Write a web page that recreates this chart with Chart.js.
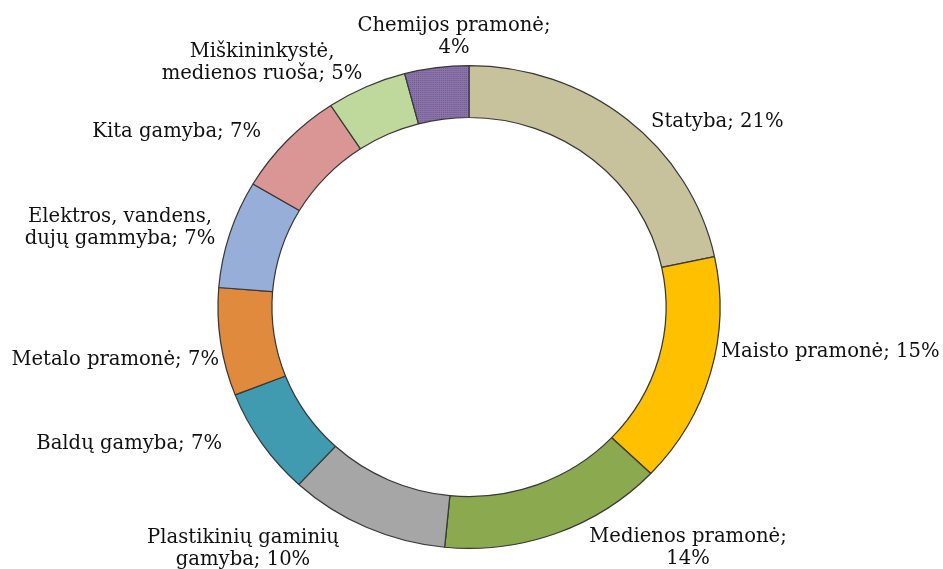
<!DOCTYPE html>
<html>
<head>
<meta charset="utf-8">
<script src="https://cdn.jsdelivr.net/npm/chart.js@4.4.1/dist/chart.umd.min.js"></script>
<style>
  html, body { margin: 0; padding: 0; background: #fff; }
  #wrap { width: 943px; height: 569px; }
</style>
</head>
<body>
<div id="wrap"><canvas id="ringChart" width="943" height="569"></canvas></div>
<script>
// Duomenys (pagal laikrodžio rodyklę nuo viršaus)
const sectors = [
    'Statyba', 'Maisto pramonė', 'Medienos pramonė', 'Plastikinių gaminių gamyba',
    'Baldų gamyba', 'Metalo pramonė', 'Elektros, vandens, dujų gammyba',
    'Kita gamyba', 'Miškininkystė, medienos ruoša', 'Chemijos pramonė'
];
const shares = [21, 15, 14, 10, 7, 7, 7, 7, 5, 4];

// Užrašų eilutės (kaip originale)
const labelLines = [
    ['Statyba; 21%'],
    ['Maisto pramonė; 15%'],
    ['Medienos pramonė;', '14%'],
    ['Plastikinių gaminių', 'gamyba; 10%'],
    ['Baldų gamyba; 7%'],
    ['Metalo pramonė; 7%'],
    ['Elektros, vandens,', 'dujų gammyba; 7%'],
    ['Kita gamyba; 7%'],
    ['Miškininkystė,', 'medienos ruoša; 5%'],
    ['Chemijos pramonė;', '4%']
];

// Spalvos
const colors = ['#C8C29C', '#FFC000', '#8BA94E', '#A6A6A6', '#409AB0',
                '#E08A3E', '#97AED9', '#D99694', '#BFD89B', null];

// Taškuotas raštas chemijos sektoriui
function dotPattern() {
    const c = document.createElement('canvas');
    c.width = 2; c.height = 2;
    const g = c.getContext('2d');
    g.fillStyle = '#8A74AA';
    g.fillRect(0, 0, 2, 2);
    g.fillStyle = '#6F5A8E';
    g.fillRect(0, 0, 1, 1);
    return g.createPattern(c, 'repeat');
}
const ctx = document.getElementById('ringChart').getContext('2d');
const fills = colors.map(c => c || dotPattern());

// Užrašų vietos (pirmos eilutės bazinė linija)
const labelPos = [
    { x: 651, y: 127, align: 'left' },
    { x: 721, y: 357, align: 'left' },
    { x: 688, y: 542, align: 'center' },
    { x: 243, y: 543, align: 'center' },
    { x: 222, y: 449, align: 'right' },
    { x: 219, y: 365, align: 'right' },
    { x: 120, y: 222, align: 'center' },
    { x: 261, y: 137, align: 'right' },
    { x: 262, y: 57, align: 'center' },
    { x: 454, y: 31, align: 'center' }
];

// Žiedas originale šiek tiek platesnis nei aukštesnis
const stretch = {
    id: 'stretch',
    beforeDatasetsDraw(chart) {
        const arc = chart.getDatasetMeta(0).data[0];
        const c = chart.ctx;
        c.save();
        c.translate(arc.x, arc.y);
        c.scale(1.04, 1);
        c.translate(-arc.x, -arc.y);
    },
    afterDatasetsDraw(chart) {
        chart.ctx.restore();
    }
};

const outsideLabels = {
    id: 'outsideLabels',
    afterDraw(chart) {
        const c = chart.ctx;
        c.save();
        c.font = '19.6px "DejaVu Serif", serif';
        c.fillStyle = '#111';
        c.textBaseline = 'alphabetic';
        labelLines.forEach((lines, i) => {
            const p = labelPos[i];
            c.textAlign = p.align;
            lines.forEach((t, k) => c.fillText(t, p.x, p.y + k * 21.5));
        });
        c.restore();
    }
};

new Chart(ctx, {
    type: 'doughnut',
    data: {
        labels: sectors,
        datasets: [{
            data: shares,
            backgroundColor: fills,
            borderColor: '#383838',
            borderWidth: 1.2,
            borderAlign: 'center'
        }]
    },
    options: {
        responsive: false,
        animation: false,
        cutout: '78.5%',
        rotation: 0,
        layout: { padding: { top: 65, bottom: 20, left: 100, right: 105 } },
        plugins: {
            legend: { display: false },
            tooltip: { enabled: false }
        }
    },
    plugins: [stretch, outsideLabels]
});
</script>
</body>
</html>
